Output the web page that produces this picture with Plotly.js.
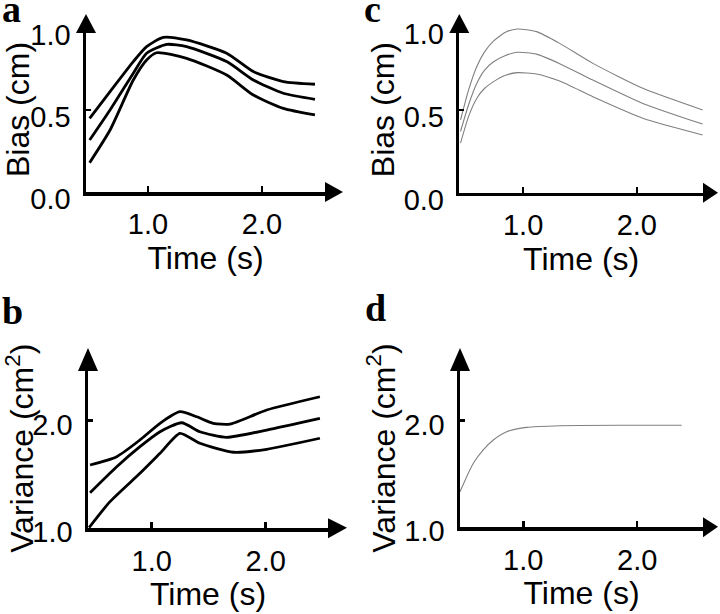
<!DOCTYPE html>
<html>
<head>
<meta charset="utf-8">
<script src="https://cdn.plot.ly/plotly-3.0.1.min.js"></script>
<style>html,body{margin:0;padding:0;background:#fff;}#chart{width:720px;height:614px;}</style>
</head>
<body>
<div id="chart"></div>
<script>
// ---------- DATA ----------
// Panel a: Bias (cm) vs Time (s), three black curves
const aTime = [0.488, 0.667, 0.871, 0.988, 1.134, 1.339, 1.690, 1.924, 2.187, 2.465];
const aUpper = [0.449, 0.612, 0.795, 0.886, 0.943, 0.927, 0.846, 0.734, 0.673, 0.657];
const aTimeMid = [0.488, 0.667, 0.871, 0.988, 1.164, 1.339, 1.690, 1.924, 2.187, 2.465];
const aMiddle = [0.317, 0.500, 0.724, 0.846, 0.900, 0.886, 0.795, 0.683, 0.602, 0.565];
const aTimeLow = [0.488, 0.667, 0.871, 0.988, 1.076, 1.339, 1.690, 1.924, 2.187, 2.465];
const aLower = [0.179, 0.378, 0.683, 0.805, 0.849, 0.815, 0.713, 0.591, 0.510, 0.470];

// Panel b: Variance (cm^2) vs Time (s)
const bTimeUp = [0.459, 0.693, 0.897, 1.073, 1.248, 1.395, 1.540, 1.687, 2.009, 2.476];
const bUpper = [1.586, 1.664, 1.820, 1.976, 2.084, 2.037, 1.976, 1.969, 2.100, 2.224];
const bTimeMid = [0.459, 0.693, 0.897, 1.073, 1.263, 1.423, 1.657, 2.009, 2.476];
const bMiddle = [1.327, 1.570, 1.757, 1.897, 1.981, 1.897, 1.845, 1.913, 2.022];
const bTimeLow = [0.450, 0.634, 0.897, 1.073, 1.248, 1.423, 1.716, 2.009, 2.476];
const bLower = [1.000, 1.243, 1.508, 1.695, 1.882, 1.789, 1.705, 1.733, 1.836];

// Panel c: Bias (cm) vs Time (s), three thin grey curves
const cTime = [0.450, 0.520, 0.592, 0.660, 0.737, 0.845, 0.950, 1.118, 1.322, 1.614, 2.053, 2.579];
const cUpper = [0.440, 0.620, 0.762, 0.850, 0.915, 0.970, 0.990, 0.974, 0.903, 0.782, 0.631, 0.500];
const cMiddle = [0.370, 0.530, 0.660, 0.740, 0.790, 0.830, 0.849, 0.838, 0.780, 0.681, 0.540, 0.415];
const cLower = [0.300, 0.460, 0.570, 0.630, 0.670, 0.710, 0.726, 0.718, 0.675, 0.580, 0.450, 0.349];

// Panel d: Variance (cm^2) vs Time (s), single thin grey curve
const dTime = [0.445, 0.504, 0.562, 0.649, 0.737, 0.855, 1.030, 1.322, 1.907, 2.390];
const dVar = [1.330, 1.472, 1.598, 1.724, 1.818, 1.896, 1.937, 1.953, 1.957, 1.957];

// Tick labels / text
const xTickVals = [1.0, 2.0];
const biasTickVals = [0.0, 0.5, 1.0];
const varTickVals = [1.0, 2.0];
const xTitle = "Time (s)";
const biasTitle = "Bias (cm)";
const varTitle = "Variance (cm<sup>2</sup>)";
const panelLetters = ["a", "b", "c", "d"];

// ---------- LAYOUT GEOMETRY (pixels) ----------
const W = 720, H = 614;
const fx = p => p / W;
const fy = p => 1 - p / H;

const panels = [
  {xa: "x",  ya: "y",  left: 86,    right: 325, top: 27.0,  bottom: 192.0, xr: [0.456, 2.553], yr: [0, 1.006], yt: biasTickVals, ytitle: biasTitle,
   yTip: 14, yBase: 33, xTip: 343, letter: {x: 1, y: 31}, shift: 7},
  {xa: "x2", ya: "y2", left: 88,    right: 328, top: 368.3, bottom: 528.2, xr: [0.441, 2.547], yr: [0.995, 2.49], yt: varTickVals, ytitle: varTitle,
   yTip: 348, yBase: 371, xTip: 347, letter: {x: 1, y: 333}, shift: 4},
  {xa: "x3", ya: "y3", left: 459.3, right: 703, top: 26.5,  bottom: 192.7, xr: [0.439, 2.582], yr: [0, 1.005], yt: biasTickVals, ytitle: biasTitle,
   yTip: 14, yBase: 33, xTip: 718, letter: {x: 363, y: 31}, shift: 7},
  {xa: "x4", ya: "y4", left: 460,   right: 703, top: 368.8, bottom: 527.2, xr: [0.445, 2.577], yr: [0.995, 2.49], yt: varTickVals, ytitle: varTitle,
   yTip: 348, yBase: 371, xTip: 718, letter: {x: 364, y: 330}, shift: 4}
];

const tickFont = {family: "Liberation Sans, Arial, sans-serif", size: 29, color: "#000"};
const titleFont = {family: "Liberation Sans, Arial, sans-serif", size: 32, color: "#000"};

const blackLine = {color: "#000", width: 2.8, shape: "spline", smoothing: 0.6};
const greyLine = {color: "#808080", width: 1.1, shape: "spline", smoothing: 0.6};

const traces = [
  {x: aTime, y: aUpper, xaxis: "x", yaxis: "y", mode: "lines", line: blackLine},
  {x: aTimeMid, y: aMiddle, xaxis: "x", yaxis: "y", mode: "lines", line: blackLine},
  {x: aTimeLow, y: aLower, xaxis: "x", yaxis: "y", mode: "lines", line: blackLine},
  {x: bTimeUp, y: bUpper, xaxis: "x2", yaxis: "y2", mode: "lines", line: blackLine},
  {x: bTimeMid, y: bMiddle, xaxis: "x2", yaxis: "y2", mode: "lines", line: blackLine},
  {x: bTimeLow, y: bLower, xaxis: "x2", yaxis: "y2", mode: "lines", line: blackLine},
  {x: cTime, y: cUpper, xaxis: "x3", yaxis: "y3", mode: "lines", line: greyLine},
  {x: cTime, y: cMiddle, xaxis: "x3", yaxis: "y3", mode: "lines", line: greyLine},
  {x: cTime, y: cLower, xaxis: "x3", yaxis: "y3", mode: "lines", line: greyLine},
  {x: dTime, y: dVar, xaxis: "x4", yaxis: "y4", mode: "lines", line: greyLine}
];

const layout = {
  width: W, height: H,
  margin: {l: 0, r: 0, t: 0, b: 0},
  paper_bgcolor: "#fff", plot_bgcolor: "#fff",
  showlegend: false,
  shapes: [], annotations: []
};

panels.forEach((p, i) => {
  const xKey = "xaxis" + (i === 0 ? "" : (i + 1));
  const yKey = "yaxis" + (i === 0 ? "" : (i + 1));
  layout[xKey] = {
    domain: [fx(p.left), fx(p.right)], anchor: p.ya, range: p.xr,
    showgrid: false, zeroline: false, showline: true, linecolor: "#000", linewidth: 3.5,
    ticks: "inside", ticklen: 6, tickwidth: 2.5, tickcolor: "#000",
    tickmode: "array", tickvals: xTickVals, tickformat: ".1f",
    tickfont: tickFont, ticklabelstandoff: 4,
    title: {text: xTitle, font: titleFont, standoff: 2},
    fixedrange: true
  };
  layout[yKey] = {
    domain: [fy(p.bottom), fy(p.top)], anchor: p.xa, range: p.yr,
    showgrid: false, zeroline: false, showline: true, linecolor: "#000", linewidth: 3.5,
    ticks: "inside", ticklen: 5, tickwidth: 2.5, tickcolor: "#000",
    tickmode: "array", tickvals: p.yt, tickformat: ".1f",
    tickfont: tickFont, ticklabelstandoff: 6, ticklabelshift: p.shift,
    title: {text: p.ytitle, font: titleFont, standoff: 0},
    fixedrange: true
  };
  // arrowheads at the axis ends (decoration)
  layout.shapes.push({
    type: "path", xref: "paper", yref: "paper", layer: "above",
    path: `M ${fx(p.left)} ${fy(p.yTip)} L ${fx(p.left - 10)} ${fy(p.yBase)} L ${fx(p.left + 10)} ${fy(p.yBase)} Z`,
    fillcolor: "#000", line: {width: 0}
  });
  layout.shapes.push({
    type: "path", xref: "paper", yref: "paper", layer: "above",
    path: `M ${fx(p.xTip)} ${fy(p.bottom - (i % 2 === 1 ? 0.5 : 0))} L ${fx(p.right)} ${fy(p.bottom - 10)} L ${fx(p.right)} ${fy(p.bottom + 10)} Z`,
    fillcolor: "#000", line: {width: 0}
  });
  layout.annotations.push({
    text: panelLetters[i], xref: "paper", yref: "paper",
    x: fx(p.letter.x), y: fy(p.letter.y), xanchor: "left", yanchor: "bottom",
    showarrow: false, borderpad: 0,
    font: {family: "Liberation Serif, Times New Roman, serif", size: 38, color: "#000", weight: "bold"}
  });
});

Plotly.newPlot("chart", traces, layout, {staticPlot: true, displayModeBar: false});
</script>
</body>
</html>
